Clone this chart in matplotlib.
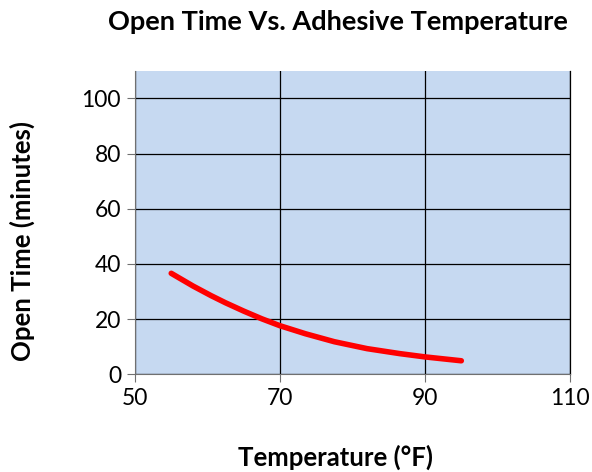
import numpy as np
import matplotlib
matplotlib.use("Agg")
import matplotlib.pyplot as plt

plt.rcParams['font.family'] = ['Lato', 'DejaVu Sans']

# data
temperature = [55, 58, 60.5, 62.5, 65, 67.5, 70, 73.5, 77.5, 82, 86.5, 90, 95]
open_time = [36.6, 32.0, 28.5, 25.9, 22.9, 20.1, 17.6, 14.7, 11.8, 9.3, 7.5, 6.3, 4.9]
x_ticks = [50, 70, 90, 110]
y_ticks = [0, 20, 40, 60, 80, 100]

fig = plt.figure(figsize=(5.92, 4.72), dpi=100)
ax = fig.add_axes([0.228, 0.207, 0.735, 0.643])
ax.set_facecolor('#C6D9F1')

ax.plot(temperature, open_time, color='#FF0000', lw=4, solid_capstyle='round',
	solid_joinstyle='round')

ax.set_xlim(50, 110)
ax.set_ylim(0, 110)
ax.set_xticks(x_ticks)
ax.set_yticks(y_ticks)
ax.grid(True, color='black', lw=0.9)
ax.set_axisbelow(True)
ax.spines['top'].set_visible(False)
ax.spines['right'].set_color('black')
ax.spines['right'].set_linewidth(0.9)
ax.spines['left'].set_color('#707070')
ax.spines['bottom'].set_color('#707070')
ax.tick_params(axis='both', labelsize=16.5, length=6, color='#707070', pad=4)

fig.text(0.571, 0.953, "Open Time Vs. Adhesive Temperature", ha='center', va='center',
	fontsize=19.5, fontweight='bold')
fig.text(0.566, 0.032, "Temperature (°F)", ha='center', va='center',
	fontsize=18.5, fontweight='bold')
fig.text(0.037, 0.49, "Open Time (minutes)", ha='center', va='center', rotation=90,
	fontsize=18.5, fontweight='bold')

fig.savefig("out.png", dpi=100)
